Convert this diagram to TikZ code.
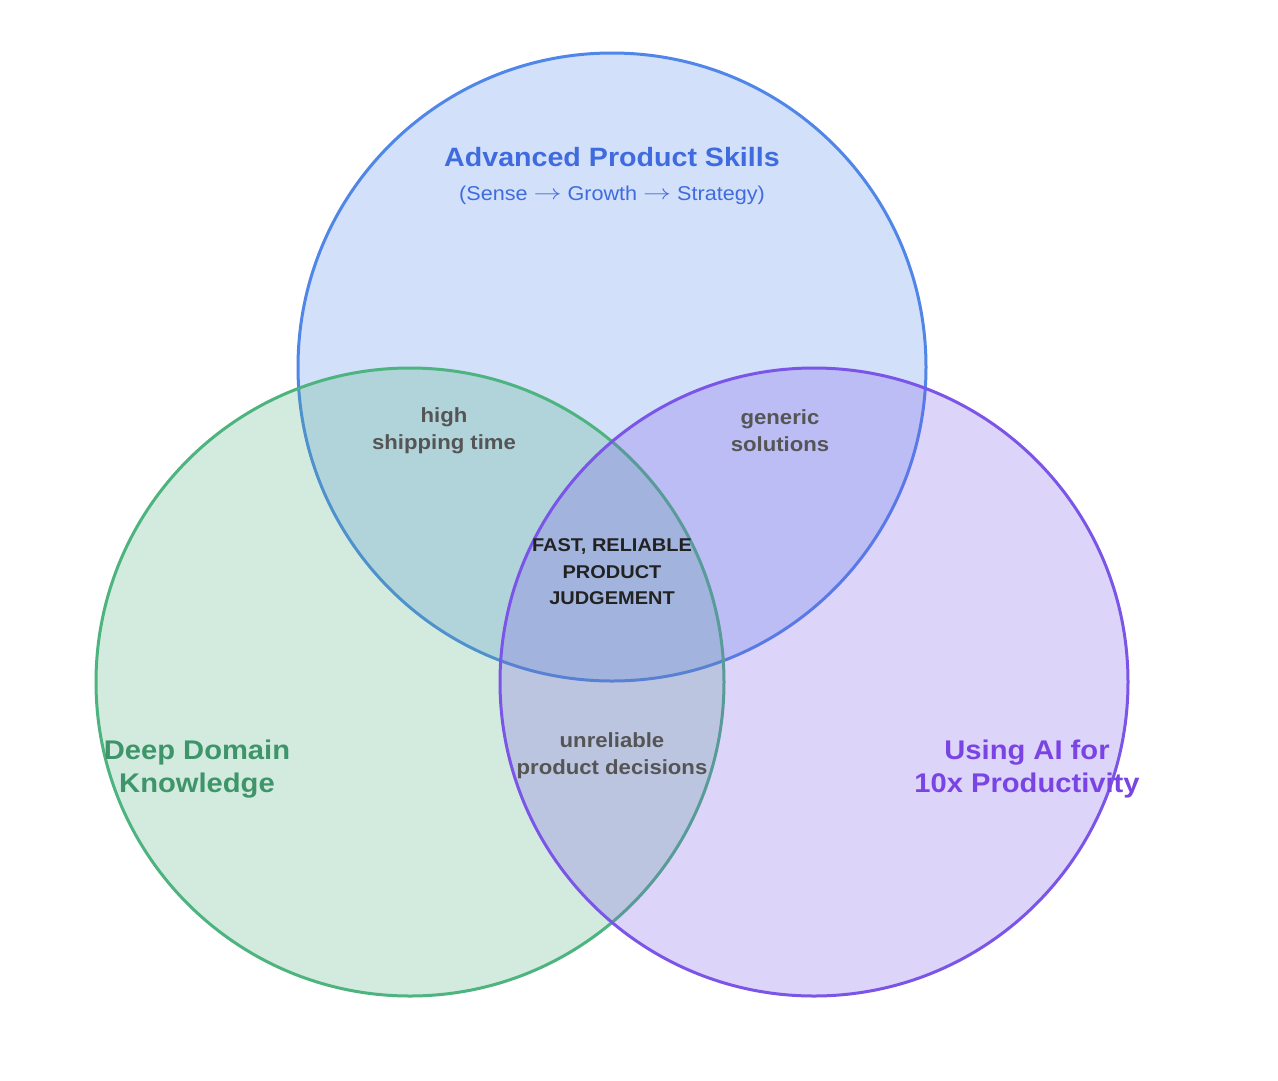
\documentclass[tikz,border=0pt]{standalone}
\usepackage{graphicx}
\usepackage{fontspec}
\setmainfont{Liberation Sans}[FakeStretch=1.08]
\definecolor{cblue}{HTML}{4F86E8}
\definecolor{cgreen}{HTML}{4DB37F}
\definecolor{cpurple}{HTML}{7B55E8}
\definecolor{tblue}{HTML}{3F6BDE}
\definecolor{tgreen}{HTML}{3F956A}
\definecolor{tpurple}{HTML}{7A44E4}
\definecolor{tgray}{HTML}{555555}
\definecolor{tdark}{HTML}{222222}
\newcommand{\longarr}{\raisebox{0.5pt}{\scalebox{1.35}[1]{$\rightarrow$}}}
\tikzset{
  venn/.style={line width=3pt, fill opacity=0.25},
  region/.style={font=\bfseries\fontsize{20.5}{27}\selectfont, text=tgray, align=center},
  center/.style={font=\bfseries\fontsize{18.5}{26.5}\selectfont, text=tdark, align=center},
  biglabel/.style={font=\bfseries\fontsize{27}{33}\selectfont, align=center}
}
\begin{document}
\begin{tikzpicture}[x=1pt,y=-1pt]
\useasboundingbox (0,0) rectangle (1278,1080);
\fill[white] (0,0) rectangle (1278,1080);
\draw[venn, draw=cblue, fill=cblue] (612,367) circle (314);
\draw[venn, draw=cgreen, fill=cgreen] (410,682) circle (314);
\draw[venn, draw=cpurple, fill=cpurple, fill opacity=0.25] (814,682) circle (314);
\node[font=\bfseries\fontsize{26.5}{30}\selectfont, text=tblue] (title) at (612,157) {Advanced Product Skills};
\node[font=\fontsize{20}{24}\selectfont, text=tblue] (sub) at (612,195) {(Sense \longarr{} Growth \longarr{} Strategy)};
\node[region] (tl) at (444,431) {high\\shipping time};
\node[region] (tr) at (780,431) {generic\\solutions};
\node[center] (mid) at (612,572) {FAST, RELIABLE\\PRODUCT\\JUDGEMENT};
\node[region] (bot) at (612,756) {unreliable\\product decisions};
\node[biglabel, text=tgreen] (deep) at (197,769) {Deep Domain\\Knowledge};
\node[biglabel, text=tpurple] (ai) at (1027,769) {Using AI for\\10x Productivity};
\end{tikzpicture}
\end{document}
